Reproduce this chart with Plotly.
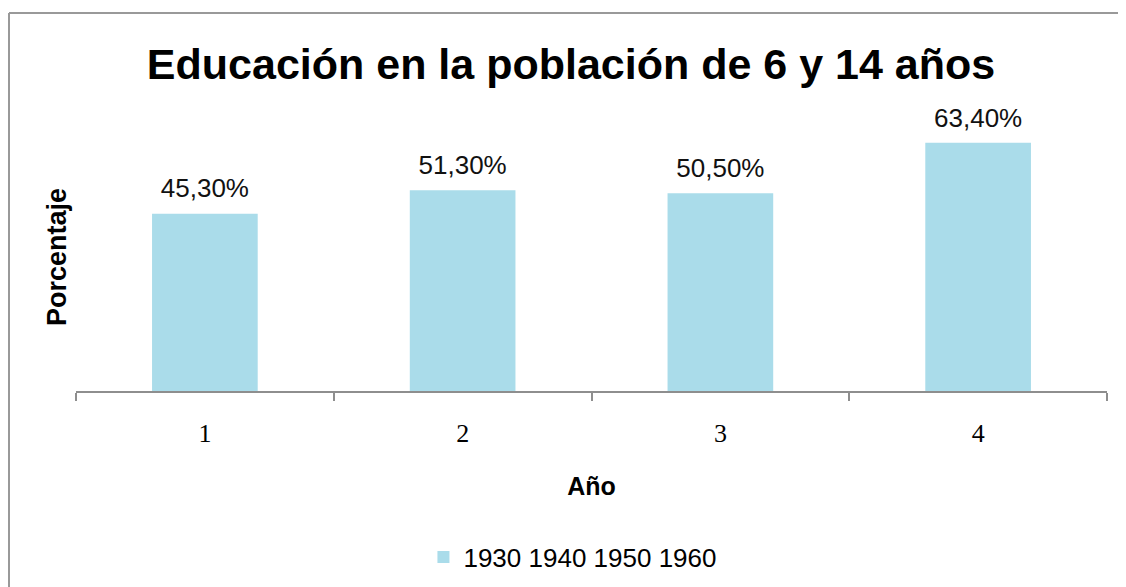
import plotly.graph_objects as go

categories = ["1", "2", "3", "4"]
values = [45.3, 51.3, 50.5, 63.4]
series_name = "1930 1940 1950 1960"
title_text = "Educación en la población de 6 y 14 años"
x_title = "Año"
y_title = "Porcentaje"

# page body has an 8px margin; screen px = figure px + 8
OFF = 8
W, H = 1126, 587
L, R, T, B = 68, 27, 109, 204
pw = W - L - R
ph = H - T - B

def px_x(sx):
    return (sx - OFF - L) / pw

def px_y(sy):
    return (H - B - (sy - OFF)) / ph

fig = go.Figure()
fig.add_trace(go.Bar(
    x=categories, y=values, name=series_name,
    marker=dict(color="#aadcea", line=dict(width=0)),
    hoverinfo="x+y",
))
fig.add_trace(go.Scatter(
    x=categories, y=values, mode="markers+text",
    text=[f"{v:.2f}%".replace(".", ",") for v in values],
    textposition="top center",
    marker=dict(size=14, opacity=0),
    textfont=dict(family="Liberation Sans, Arial", size=26, color="#111"),
    showlegend=False, hoverinfo="skip", cliponaxis=False,
))

fig.update_layout(
    width=W, height=H,
    margin=dict(l=L, r=R, t=T, b=B),
    paper_bgcolor="white", plot_bgcolor="white",
    bargap=0.59,
    separators=",.",
    title=dict(text=f"<b>{title_text}</b>", x=0.5, xanchor="center",
               y=1 - (64 - OFF) / H, yanchor="middle", yref="container",
               font=dict(family="Liberation Sans, Arial", size=43, color="#000")),
    xaxis=dict(type="category", showline=True, linecolor="#8e8e8e", linewidth=2,
               ticks="outside", tickson="boundaries", ticklen=8, tickwidth=2,
               tickcolor="#8e8e8e", showgrid=False, zeroline=False,
               tickfont=dict(family="Liberation Serif, Times New Roman", size=26, color="#000"),
               ticklabelstandoff=18,
               title=dict(text=f"<b>{x_title}</b>", standoff=30,
                          font=dict(family="Liberation Sans, Arial", size=25, color="#000"))),
    yaxis=dict(range=[0, 70], showline=False, showticklabels=False, ticks="",
               showgrid=False, zeroline=False),
    annotations=[
        dict(text=f"<b>{y_title}</b>", textangle=-90, xref="paper", yref="paper",
             x=px_x(57), y=px_y(257), xanchor="center", yanchor="middle",
             showarrow=False,
             font=dict(family="Liberation Sans, Arial", size=27, color="#000")),
    ],
    legend=dict(orientation="h", x=0.482, xanchor="center", y=px_y(557), yanchor="middle",
                font=dict(family="Liberation Sans, Arial", size=26, color="#000"),
                bgcolor="rgba(0,0,0,0)"),
    shapes=[
        dict(type="line", xref="paper", yref="paper", x0=px_x(9), x1=px_x(1140),
             y0=px_y(13), y1=px_y(13), line=dict(color="#999999", width=2)),
        dict(type="line", xref="paper", yref="paper", x0=px_x(9), x1=px_x(9),
             y0=px_y(13), y1=px_y(610), line=dict(color="#999999", width=2)),
    ],
)

fig.write_html("out.html")
